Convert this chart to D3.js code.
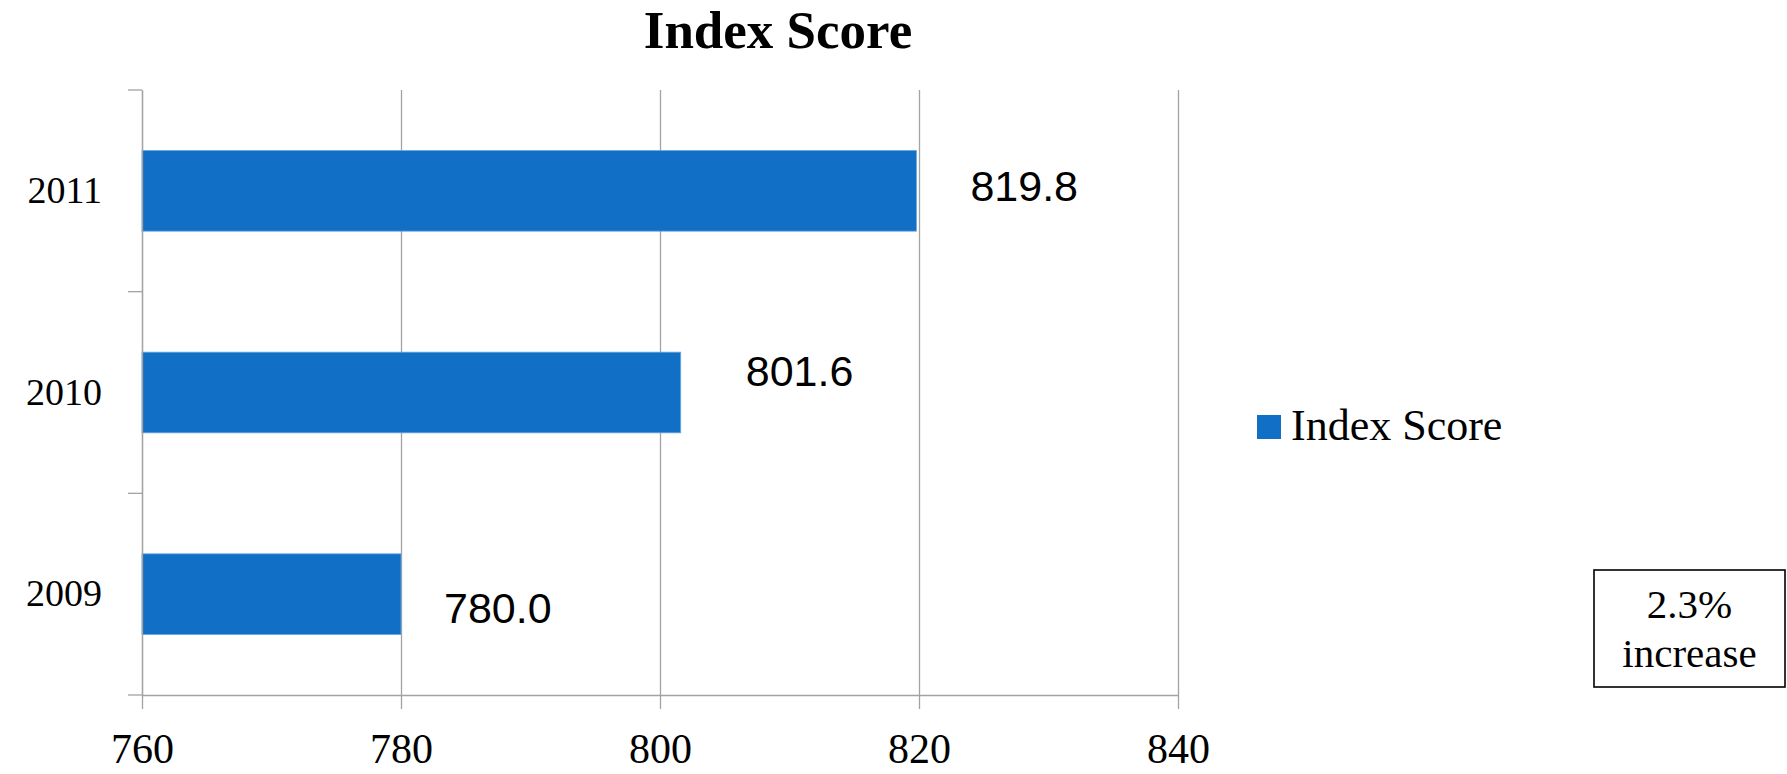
<!DOCTYPE html>
<html>
<head>
<meta charset="utf-8">
<script src="https://cdn.jsdelivr.net/npm/d3@7"></script>
<style>
  body { margin: 0; background: #fff; }
  svg { display: block; }
</style>
</head>
<body>
<svg id="chart"></svg>
<script>
// chart data
var years = ["2011", "2010", "2009"];
var scores = [819.8, 801.6, 780.0];
var xTicks = [760, 780, 800, 820, 840];
var seriesName = "Index Score";
var noteLines = ["2.3%", "increase"];

// little nudges for the value labels, like the hand-placed ones in the original
var labelDx = [54, 65, 43];
var labelDy = [10, -7, 29];

var width = 1787, height = 774;
var plotLeft = 142, plotRight = 1178, plotTop = 90, plotBottom = 695;

var svg = d3.select("#chart")
  .attr("width", width)
  .attr("height", height);

var x = d3.scaleLinear()
  .domain([760, 840])
  .range([plotLeft, plotRight]);

var y = d3.scaleBand()
  .domain(years)
  .range([plotTop, plotBottom])
  .padding(0);

// grid lines
svg.append("g")
  .attr("transform", "translate(0," + plotBottom + ")")
  .call(d3.axisBottom(x).tickValues(xTicks).tickSize(-(plotBottom - plotTop)).tickFormat(""))
  .call(g => g.select(".domain").remove())
  .call(g => g.selectAll("line").attr("stroke", "#a3a3a3").attr("stroke-width", 1.3));

// bars
svg.selectAll("rect.bar")
  .data(years)
  .enter()
  .append("rect")
  .attr("class", "bar")
  .attr("x", x(760))
  .attr("y", d => y(d) + y.bandwidth() * 0.3)
  .attr("width", (d, i) => x(scores[i]) - x(760))
  .attr("height", y.bandwidth() * 0.4)
  .attr("fill", "#116fc6")
  .attr("stroke", "#6aa6e0")
  .attr("stroke-width", 0.8);

// value labels
svg.selectAll("text.val")
  .data(years)
  .enter()
  .append("text")
  .attr("class", "val")
  .attr("x", (d, i) => x(scores[i]) + labelDx[i])
  .attr("y", (d, i) => y(d) + y.bandwidth() / 2 + labelDy[i])
  .style("font-family", "'Liberation Sans', Arial, sans-serif")
  .style("font-size", "43px")
  .attr("fill", "#000")
  .text((d, i) => scores[i].toFixed(1));

// x axis
svg.append("g")
  .attr("transform", "translate(0," + plotBottom + ")")
  .call(d3.axisBottom(x).tickValues(xTicks).tickSize(14).tickSizeOuter(0).tickPadding(40).tickFormat(d3.format("d")))
  .call(g => g.select(".domain").attr("stroke", "#a3a3a3").attr("stroke-width", 1.3))
  .call(g => g.selectAll("line").attr("stroke", "#a3a3a3").attr("stroke-width", 1.3))
  .call(g => g.selectAll("text")
    .attr("dy", "0")
    .attr("y", 68)
    .style("font-family", "'Liberation Serif', 'Times New Roman', serif")
    .style("font-size", "42px")
    .attr("fill", "#000"));

// y axis
var yAxis = svg.append("g")
  .attr("transform", "translate(" + plotLeft + ",0)")
  .call(d3.axisLeft(y).tickSize(0).tickPadding(40))
  .call(g => g.select(".domain").attr("stroke", "#a3a3a3").attr("stroke-width", 1.3))
  .call(g => g.selectAll("text")
    .attr("dy", "0.32em")
    .style("font-family", "'Liberation Serif', 'Times New Roman', serif")
    .style("font-size", "38px")
    .attr("fill", "#000"));

// category boundary ticks
yAxis.selectAll("line.bound")
  .data(years.map(d => y(d)).concat([y.range()[1]]))
  .enter()
  .append("line")
  .attr("class", "bound")
  .attr("x1", -14)
  .attr("x2", 0)
  .attr("y1", d => d)
  .attr("y2", d => d)
  .attr("stroke", "#a3a3a3")
  .attr("stroke-width", 1.3);

// title
svg.append("text")
  .attr("x", 778)
  .attr("y", 48)
  .style("text-anchor", "middle")
  .style("font-family", "'Liberation Serif', 'Times New Roman', serif")
  .style("font-weight", "bold")
  .style("font-size", "53px")
  .text(seriesName);

// legend
var legend = svg.append("g")
  .attr("transform", "translate(1257,415)");

legend.append("rect")
  .attr("width", 24)
  .attr("height", 24)
  .attr("fill", "#116fc6");

legend.append("text")
  .attr("x", 34)
  .attr("y", 25)
  .style("font-family", "'Liberation Serif', 'Times New Roman', serif")
  .style("font-size", "44px")
  .text(seriesName);

// note box
var note = svg.append("g")
  .attr("transform", "translate(1594,570)");

note.append("rect")
  .attr("width", 191)
  .attr("height", 117)
  .attr("fill", "#fff")
  .attr("stroke", "#000")
  .attr("stroke-width", 1.6);

note.selectAll("text")
  .data(noteLines)
  .enter()
  .append("text")
  .attr("x", 95.5)
  .attr("y", (d, i) => 48 + i * 49)
  .style("text-anchor", "middle")
  .style("font-family", "'Liberation Serif', 'Times New Roman', serif")
  .style("font-size", "41px")
  .text(d => d);
</script>
</body>
</html>
